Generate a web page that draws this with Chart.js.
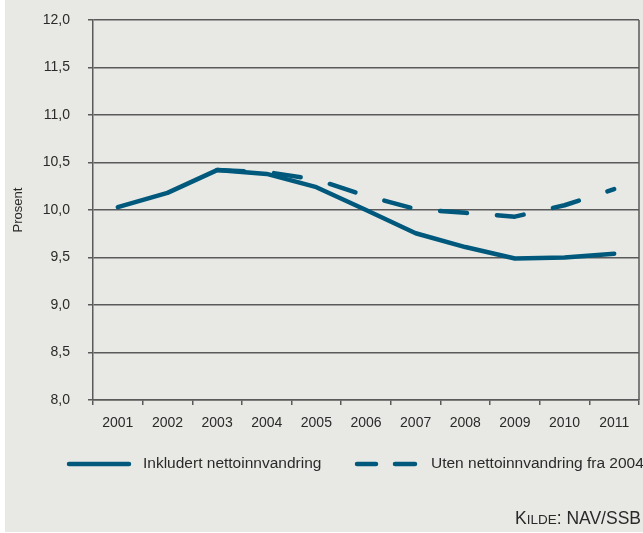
<!DOCTYPE html>
<html>
<head>
<meta charset="utf-8">
<script src="https://cdn.jsdelivr.net/npm/chart.js@4/dist/chart.umd.min.js"></script>
<style>
  html, body { margin: 0; padding: 0; background: #ffffff; }
  #wrap { width: 643px; height: 533px; position: relative; }
</style>
</head>
<body>
<div id="wrap"><canvas id="c" width="643" height="533"></canvas></div>
<script>
const categories = ['2001','2002','2003','2004','2005','2006','2007','2008','2009','2010','2011'];
const inkludert = [10.03, 10.18, 10.42, 10.38, 10.24, 10.00, 9.755, 9.61, 9.49, 9.50, 9.54];
const uten = [null, null, 10.42, 10.40, 10.32, 10.15, 10.01, 9.97, 9.93, 10.05, 10.22];
const seriesNames = ['Inkludert nettoinnvandring', 'Uten nettoinnvandring fra 2004'];
const yAxisTitle = 'Prosent';
const sourceText = ['K', 'ILDE', ': NAV/SSB'];

const LINE = '#00597c';
const GRID = '#5a5a5a';
const TEXT = '#2a2a2a';
const FONT = "'Liberation Sans', Arial, sans-serif";

const bgPlugin = {
  id: 'bg',
  beforeDraw(chart) {
    const ctx = chart.ctx;
    ctx.save();
    ctx.fillStyle = '#ffffff';
    ctx.fillRect(0, 0, chart.width, chart.height);
    ctx.fillStyle = '#e8e9e4';
    ctx.fillRect(5, 0, chart.width - 5, 532);
    ctx.restore();
  },
  afterDraw(chart) {
    const ctx = chart.ctx;
    const a = chart.chartArea;
    ctx.save();
    // right frame line
    ctx.strokeStyle = GRID;
    ctx.lineWidth = 1.5;
    ctx.beginPath();
    ctx.moveTo(a.right, a.top);
    ctx.lineTo(a.right, a.bottom);
    ctx.stroke();

    // legend
    const ds = chart.data.datasets;
    const ly = 464;
    ctx.lineCap = 'round';
    ctx.strokeStyle = ds[0].borderColor;
    ctx.lineWidth = ds[0].borderWidth;
    ctx.setLineDash([]);
    ctx.beginPath(); ctx.moveTo(69, ly); ctx.lineTo(129, ly); ctx.stroke();
    ctx.strokeStyle = ds[1].borderColor;
    ctx.lineWidth = ds[1].borderWidth;
    ctx.beginPath(); ctx.moveTo(357, ly); ctx.lineTo(376, ly); ctx.stroke();
    ctx.beginPath(); ctx.moveTo(395, ly); ctx.lineTo(415, ly); ctx.stroke();

    ctx.fillStyle = TEXT;
    ctx.font = '15.5px ' + FONT;
    ctx.textBaseline = 'middle';
    ctx.textAlign = 'left';
    ctx.fillText(ds[0].label, 143, ly);
    ctx.fillText(ds[1].label, 431, ly);

    // source (small caps)
    ctx.textBaseline = 'alphabetic';
    const big = '17.5px ' + FONT, small = '13.5px ' + FONT;
    ctx.font = big; const w1 = ctx.measureText(sourceText[0]).width;
    ctx.font = small; const w2 = ctx.measureText(sourceText[1]).width;
    ctx.font = big; const w3 = ctx.measureText(sourceText[2]).width;
    let x = 641 - (w1 + w2 + w3);
    const by = 524;
    ctx.font = big; ctx.fillText(sourceText[0], x, by); x += w1;
    ctx.font = small; ctx.fillText(sourceText[1], x, by); x += w2;
    ctx.font = big; ctx.fillText(sourceText[2], x, by);
    ctx.restore();
  }
};

new Chart(document.getElementById('c'), {
  type: 'line',
  data: {
    labels: categories,
    datasets: [
      {
        label: seriesNames[0],
        data: inkludert,
        borderColor: LINE,
        borderWidth: 4.5,
        borderCapStyle: 'round',
        borderJoinStyle: 'round',
        pointRadius: 0,
        tension: 0,
        fill: false
      },
      {
        label: seriesNames[1],
        data: uten,
        borderColor: LINE,
        borderWidth: 4.5,
        borderDash: [27, 30],
        borderCapStyle: 'round',
        borderJoinStyle: 'round',
        pointRadius: 0,
        tension: 0,
        fill: false,
        spanGaps: false
      }
    ]
  },
  options: {
    responsive: false,
    animation: false,
    devicePixelRatio: 1,
    layout: { padding: { left: 0, right: 4, top: 20, bottom: 93 } },
    plugins: {
      legend: { display: false },
      tooltip: { enabled: false }
    },
    scales: {
      x: {
        offset: true,
        grid: {
          offset: true,
          drawOnChartArea: false,
          drawTicks: true,
          tickLength: 5,
          color: GRID,
          lineWidth: 1.5
        },
        border: { display: true, color: GRID, width: 1.5 },
        ticks: {
          color: TEXT,
          font: { family: FONT, size: 14 },
          padding: 10,
          maxRotation: 0,
          autoSkip: false
        },
        afterFit(scale) { scale.height = 40; scale.paddingLeft = 0; scale.paddingRight = 0; }
      },
      y: {
        min: 8,
        max: 12,
        grid: {
          color: GRID,
          lineWidth: 1.5,
          drawTicks: true,
          tickLength: 5
        },
        border: { display: true, color: GRID, width: 1.5 },
        ticks: {
          stepSize: 0.5,
          color: TEXT,
          font: { family: FONT, size: 14 },
          padding: 18,
          callback: (v) => Number(v).toFixed(1).replace('.', ',')
        },
        title: {
          display: true,
          text: yAxisTitle,
          color: TEXT,
          font: { family: FONT, size: 13 },
          padding: { top: 11, bottom: 0 }
        },
        afterFit(scale) { scale.width = 93; scale.paddingTop = 0; scale.paddingBottom = 0; }
      }
    }
  },
  plugins: [bgPlugin]
});
</script>
</body>
</html>
